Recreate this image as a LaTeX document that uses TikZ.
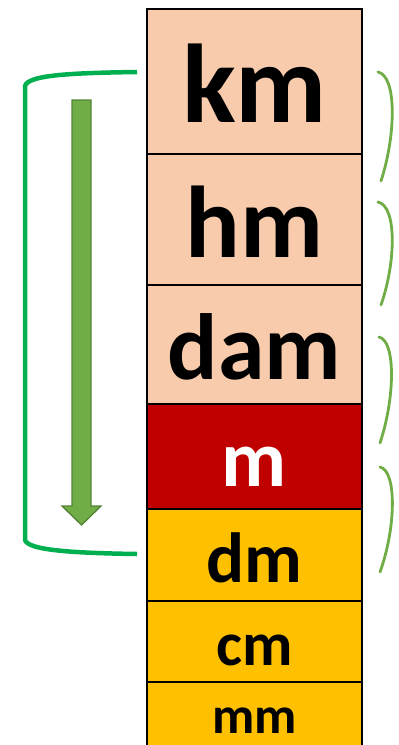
\documentclass[tikz,border=0pt]{standalone}
\usepackage{fontspec}
\setmainfont{Carlito}
\definecolor{peach}{HTML}{F8CBAD}
\definecolor{darkred}{HTML}{C00000}
\definecolor{gold}{HTML}{FFC000}
\definecolor{brgreen}{HTML}{00B050}
\definecolor{argreen}{HTML}{70AD47}
\definecolor{argreendk}{HTML}{548235}
\tikzset{
  unit/.style={inner sep=0pt, anchor=base, font=\bfseries\fontsize{#1}{#1}\selectfont},
  cellline/.style={line width=2pt, black},
  brace/.style={draw=argreen, line width=2.8pt, line cap=round},
}
\begin{document}
\begin{tikzpicture}[x=1pt,y=-1pt]
\useasboundingbox (0,0) rectangle (399,745);
\begin{scope}
\clip (0,0) rectangle (399,745);
% cells
\fill[peach] (147,9) rectangle (362,404);
\fill[darkred] (147,404) rectangle (362,509);
\fill[gold] (147,509) rectangle (362,750);
\draw[cellline] (147,750) -- (147,9) -- (362,9) -- (362,750);
\foreach \yy in {154,285,404,509,601,682} \draw[cellline] (147,\yy) -- (362,\yy);
\end{scope}
% labels
\node[unit=112] (km) at (254.5,122) {km};
\node[unit=102] (hm) at (254.5,257) {hm};
\node[unit=94] (dam) at (254.5,379) {dam};
\node[unit=80, text=white] (m) at (254.5,486) {m};
\node[unit=71] (dm) at (254.5,582) {dm};
\node[unit=62] (cm) at (254.5,665) {cm};
\node[unit=52] (mm) at (254.5,733) {mm};
% big bracket
\coordinate (bt) at (137,72);
\coordinate (bb) at (137,554);
\draw[brgreen, line width=4.5pt] (bt) .. controls (70,73) and (28,75) .. (25,86) -- (25,540) .. controls (28,550) and (70,553) .. (bb);
% arrow
\draw[fill=argreen, draw=argreendk, line width=1.3pt, line join=miter]
  (72,100) -- (91,100) -- (91,506) -- (101,506) -- (81.5,525) -- (62,506) -- (72,506) -- cycle;
% small braces
\coordinate (s1) at (378,72);  \coordinate (e1) at (381,181);
\coordinate (s2) at (378,202); \coordinate (e2) at (381,305);
\coordinate (s3) at (379,337); \coordinate (e3) at (380,443);
\coordinate (s4) at (380,467); \coordinate (e4) at (380,572);
\draw[brace] (s1) .. controls (397,76) and (396,135) .. (e1);
\draw[brace] (s2) .. controls (397,206) and (396,262) .. (e2);
\draw[brace] (s3) .. controls (396,341) and (395,398) .. (e3);
\draw[brace] (s4) .. controls (397,471) and (396,528) .. (e4);
\end{tikzpicture}
\end{document}
